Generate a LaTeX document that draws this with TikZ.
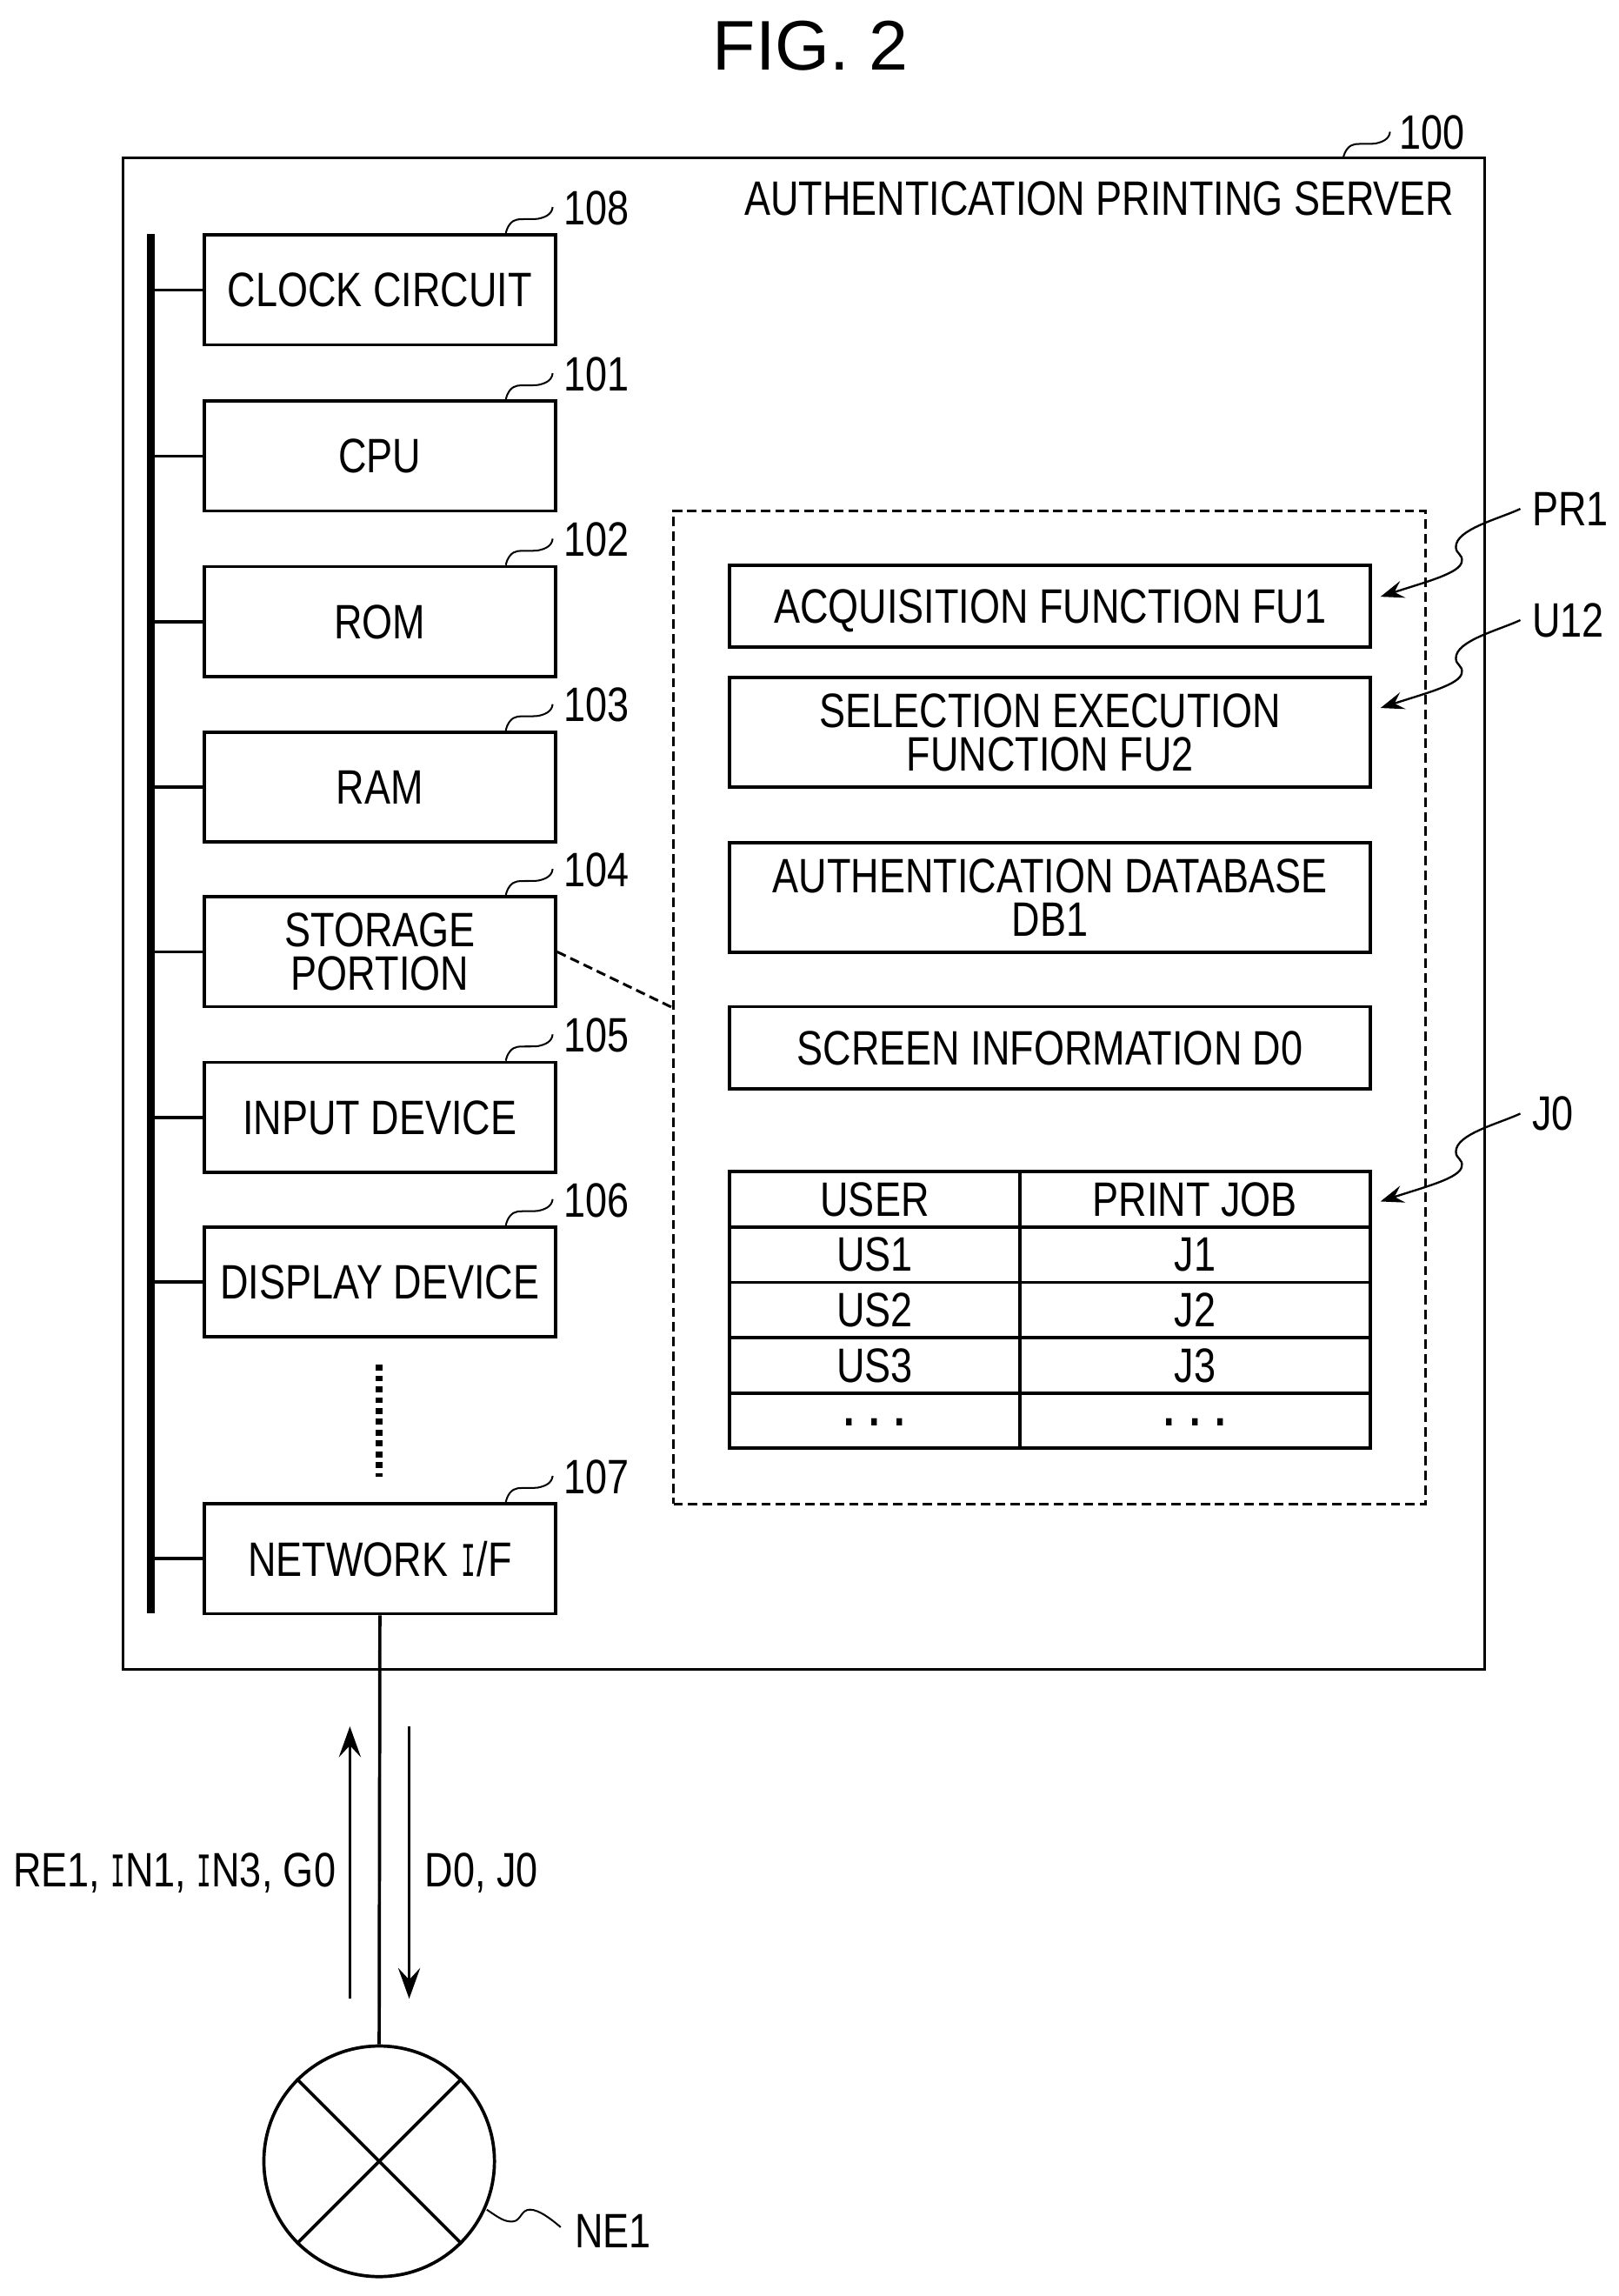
\documentclass[tikz,border=0pt]{standalone}
\usepackage{fontspec}
\setmainfont[FakeStretch=0.81]{Liberation Sans}
\newfontfamily\figfont{Liberation Sans}
\newfontfamily\serifi[FakeStretch=0.5]{Liberation Mono}
\newcommand{\slabI}{{\serifi I}}
\usetikzlibrary{arrows.meta}
\tikzset{
  x=1pt,y=-1pt,
  txt/.style={font=\fontsize{33}{29.5}\selectfont,inner sep=0pt,align=center,text depth=0pt},
  box/.style={txt,draw,line width=2.2pt,minimum width=240pt,minimum height=75pt},
  ibox/.style={txt,draw,line width=2.2pt,minimum width=437.5pt},
  cell/.style={txt,draw,line width=2.2pt,minimum height=37.8pt},
  ucell/.style={cell,minimum width=198pt},
  jcell/.style={cell,minimum width=239.5pt},
  refl/.style={txt,anchor=west},
  leader/.style={line width=1.2pt},
  pointer/.style={line width=1.4pt,-{Stealth[length=16pt,width=12pt,inset=6pt]}},
  branch/.style={line width=2.2pt},
  flow/.style={line width=2.2pt,-{Stealth[length=21pt,width=15pt,inset=8pt]}},
  dashb/.style={draw,line width=1.8pt,dash pattern=on 6.5pt off 3.5pt},
}
\newcommand{\reftick}[2]{%
  \coordinate (#1s) at ([xshift=86pt]#1.north);
  \node[refl] (#1n) at ([xshift=125.5pt,yshift=17.5pt]#1.north) {#2};
  \draw[leader,shift={(#1s)}] (0,0) .. controls (1,-5) and (4,-9) .. (8,-9.5) .. controls (12,-10) and (18,-9.5) .. (22,-10) .. controls (27,-11) and (31.5,-13) .. (32,-18);}
\newcommand{\wiggle}[2]{%
  \coordinate (#1s) at ([xshift=-8pt]#1.west);
  \draw[pointer,shift={(#1s)}] (0,0) .. controls (-15,7) and (-44,14) .. (-44,26) .. controls (-44,31) and (-39,31) .. (-40,36) .. controls (-41,44) and (-65,50) .. (#2);}
\newcommand{\threedots}{\raisebox{-2pt}{\bfseries . . .}}
\begin{document}
\begin{tikzpicture}
\useasboundingbox (0,0) rectangle (1105.7,1568);
\fill[white] (0,0) rectangle (1105.7,1568);
\node[font=\figfont\fontsize{48}{50}\selectfont,inner sep=0pt] (title) at (553.5,31) {FIG. 2};
\node[draw,line width=1.8pt,minimum width=930pt,minimum height=1032pt,inner sep=0pt] (server) at (549,624) {};
\node[txt,anchor=east] (stitle) at (993.5,135.5) {AUTHENTICATION PRINTING SERVER};
% boxes
\node[box] (clock) at (259.5,198) {CLOCK CIRCUIT};
\node[box] (cpu) at (259.5,311.5) {CPU};
\node[box] (rom) at (259.5,424.5) {ROM};
\node[box] (ram) at (259.5,537.5) {RAM};
\node[box] (stor) at (259.5,650) {STORAGE\\PORTION};
\node[box] (input) at (259.5,763) {INPUT DEVICE};
\node[box] (disp) at (259.5,875.5) {DISPLAY DEVICE};
\node[box] (net) at (259.5,1064.5) {NETWORK\hspace{1.5pt} \slabI\hspace{1pt}/F};
% bus
\coordinate (busT) at (103,160);
\coordinate (busB) at (103,1102);
\draw[line width=5pt] (busT) -- (busB);
\foreach \b in {clock,cpu,rom,ram,stor,input,disp,net}{\draw[branch] (\b.west) -- (\b.west -| busT);}
\coordinate (dotsT) at (259,932);
\coordinate (dotsB) at (259,1008.5);
\draw[line width=4.5pt,dash pattern=on 4pt off 3.4pt] (dotsT) -- (dotsB);
% ref numbers
\reftick{clock}{108}
\reftick{cpu}{101}
\reftick{rom}{102}
\reftick{ram}{103}
\reftick{stor}{104}
\reftick{input}{105}
\reftick{disp}{106}
\reftick{net}{107}
\node[refl] (n100) at (956,90.5) {100};
\coordinate (s100) at (917.5,108);
\draw[leader,shift={(s100)}] (0,0) .. controls (1,-5) and (4,-9) .. (8,-9.5) .. controls (12,-10) and (18,-9.5) .. (22,-10) .. controls (27,-11) and (31.5,-13) .. (32,-18);
% dashed storage block
\node[dashb,minimum width=514pt,minimum height=678pt,inner sep=0pt] (sto) at (717,688) {};
\draw[dashb] (stor.east) -- (sto.west);
\node[ibox,minimum height=56pt] (fu1) at (717.25,414) {ACQUISITION FUNCTION FU1};
\node[ibox,minimum height=75pt] (fu2) at (717.25,500) {SELECTION EXECUTION\\FUNCTION FU2};
\node[ibox,minimum height=75pt] (db1) at (717.25,613) {AUTHENTICATION DATABASE\\DB1};
\node[ibox,minimum height=56pt] (d0) at (717.25,715.5) {SCREEN INFORMATION D0};
% table
\node[ucell] (h1) at (597.5,819) {USER};
\node[jcell] (h2) at (816.25,819) {PRINT JOB};
\node[ucell] (r1a) at (597.5,856.8) {US1};
\node[jcell] (r1b) at (816.25,856.8) {J1};
\node[ucell] (r2a) at (597.5,894.6) {US2};
\node[jcell] (r2b) at (816.25,894.6) {J2};
\node[ucell] (r3a) at (597.5,932.4) {US3};
\node[jcell] (r3b) at (816.25,932.4) {J3};
\node[ucell] (r4a) at (597.5,970.2) {\threedots};
\node[jcell] (r4b) at (816.25,970.2) {\threedots};
% pointers
\node[refl] (pr) at (1046.5,347.5) {PR1};
\node[refl] (u12) at (1046.5,423.5) {U12};
\node[refl] (j0) at (1046.5,760.5) {J0};
\coordinate (tipa) at (943,407.5);
\coordinate (tipb) at (943,483.5);
\coordinate (tipc) at (943,820.5);
\wiggle{pr}{tipa}
\wiggle{u12}{tipb}
\wiggle{j0}{tipc}
% bottom
\node[draw,circle,line width=2.2pt,minimum size=157.5pt,inner sep=0pt] (ne) at (259,1476) {};
\draw[line width=2.2pt] (ne.45) -- (ne.225);
\draw[line width=2.2pt] (ne.135) -- (ne.-45);
\draw[line width=2.2pt] (net.south) -- (ne.north);
\coordinate (ua) at (239,1365);
\coordinate (ub) at (239,1179);
\coordinate (da) at (279.5,1179);
\coordinate (db) at (279.5,1365);
\draw[flow] (ua) -- (ub);
\draw[flow] (da) -- (db);
\node[txt,anchor=east] (lu) at (229.5,1277) {RE1, \slabI N1, \slabI N3, G0};
\node[txt,anchor=west] (ld) at (290,1277) {D0, J0};
\node[refl] (nel) at (392.5,1523.5) {NE1};
\coordinate (nes) at (332.5,1509);
\coordinate (nee) at (383,1521);
\draw[leader] (nes) .. controls (340,1514) and (345,1518) .. (351,1517) .. controls (356,1516) and (356,1509) .. (362,1509) .. controls (368,1509) and (376,1515) .. (nee);
\end{tikzpicture}
\end{document}
